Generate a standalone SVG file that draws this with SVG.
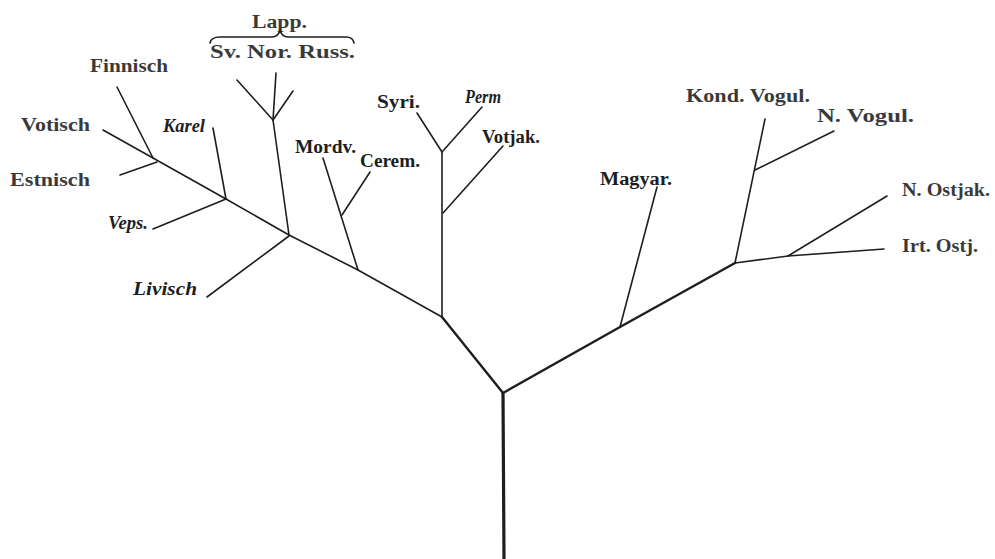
<svg xmlns="http://www.w3.org/2000/svg" width="995" height="559" viewBox="0 0 995 559">
<style>
  .ln{fill:none;stroke:#1e1e1e;stroke-linecap:round;stroke-linejoin:round;stroke-width:1.6}
  .th{stroke-width:2.4}
  .tk{stroke-width:3.2}
  text{font-family:"Liberation Serif","Times New Roman",serif;fill:#1e1e1e;font-size:18px}
  .r{font-weight:bold;opacity:0.88}
  .b{font-weight:bold}
  .bi{font-weight:bold;font-style:italic}
</style>
<rect width="995" height="559" fill="#ffffff"/>
<g id="connectors">
  <path class="ln tk" d="M503,393 L504,559"/>
  <path class="ln th" d="M503,393 L442,317"/>
  <path class="ln th" d="M503,393 L620,327 L735,263"/>
  <path class="ln" d="M442,317 L358,270 L289,235"/>
  <path class="ln" d="M442,317 L442,152"/>
  <path class="ln" d="M442,152 L417,113"/>
  <path class="ln" d="M442,152 L482,107"/>
  <path class="ln" d="M443,213 L503,146"/>
  <path class="ln" d="M358,270 L323,158"/>
  <path class="ln" d="M342,215 L370,172"/>
  <path class="ln" d="M289,235 L273,120"/>
  <path class="ln" d="M273,120 L237,80"/>
  <path class="ln" d="M273,120 L276,73"/>
  <path class="ln" d="M273,120 L293,91"/>
  <path class="ln" d="M289,236 L207,297"/>
  <path class="ln" d="M289,235 L226,199 L153,158"/>
  <path class="ln" d="M226,199 L213,128"/>
  <path class="ln" d="M226,199 L153,229"/>
  <path class="ln" d="M153,158 L117,87"/>
  <path class="ln" d="M153,158 L103,130"/>
  <path class="ln" d="M157,162 L120,175"/>
  <path class="ln" d="M620,327 L657,187"/>
  <path class="ln" d="M735,263 L765,119"/>
  <path class="ln" d="M755,170 L834,131"/>
  <path class="ln" d="M735,263 L788,256 L884,249"/>
  <path class="ln" d="M788,256 L887,196"/>
</g>
<g id="lapp">
  <text class="r" x="252" y="28" textLength="55" lengthAdjust="spacingAndGlyphs">Lapp.</text>
  <path class="ln" stroke-width="2" d="M210,43 Q211,37 220,37 L272,37 Q278,37 280,30 Q282,37 288,37 L346,37 Q353,37 354,43"/>
  <text class="r" x="210" y="58" textLength="145" lengthAdjust="spacingAndGlyphs">Sv. Nor. Russ.</text>
</g>
<g id="finnisch"><text class="r" x="90" y="72" font-size="19" textLength="78" lengthAdjust="spacingAndGlyphs">Finnisch</text></g>
<g id="votisch"><text class="r" x="21" y="131" font-size="19" textLength="69" lengthAdjust="spacingAndGlyphs">Votisch</text></g>
<g id="estnisch"><text class="r" x="10" y="186" font-size="19" textLength="80" lengthAdjust="spacingAndGlyphs">Estnisch</text></g>
<g id="karel"><text class="bi" x="163" y="132" font-size="17" textLength="42" lengthAdjust="spacingAndGlyphs">Karel</text></g>
<g id="veps"><text class="bi" x="108" y="229" font-size="14" textLength="40" lengthAdjust="spacingAndGlyphs">Veps.</text></g>
<g id="livisch"><text class="bi" x="133" y="295" font-size="19" textLength="64" lengthAdjust="spacingAndGlyphs">Livisch</text></g>
<g id="mordv"><text class="b" x="295" y="153" textLength="61" lengthAdjust="spacingAndGlyphs">Mordv.</text></g>
<g id="cerem"><text class="b" x="360" y="167" font-size="17" textLength="60" lengthAdjust="spacingAndGlyphs">Cerem.</text></g>
<g id="syri"><text class="b" x="377" y="108" textLength="43" lengthAdjust="spacingAndGlyphs">Syri.</text></g>
<g id="perm"><text class="bi" x="465" y="103" font-size="16" textLength="36" lengthAdjust="spacingAndGlyphs">Perm</text></g>
<g id="votjak"><text class="b" x="482" y="143" textLength="58" lengthAdjust="spacingAndGlyphs">Votjak.</text></g>
<g id="magyar"><text class="b" x="600" y="185" textLength="72" lengthAdjust="spacingAndGlyphs">Magyar.</text></g>
<g id="kond-vogul"><text class="r" x="686" y="102" font-size="17" textLength="124" lengthAdjust="spacingAndGlyphs">Kond. Vogul.</text></g>
<g id="n-vogul"><text class="r" x="817" y="122" font-size="17" textLength="97" lengthAdjust="spacingAndGlyphs">N.  Vogul.</text></g>
<g id="n-ostjak"><text class="r" x="902" y="196" textLength="88" lengthAdjust="spacingAndGlyphs">N. Ostjak.</text></g>
<g id="irt-ostj"><text class="r" x="902" y="252" textLength="76" lengthAdjust="spacingAndGlyphs">Irt. Ostj.</text></g>
</svg>
